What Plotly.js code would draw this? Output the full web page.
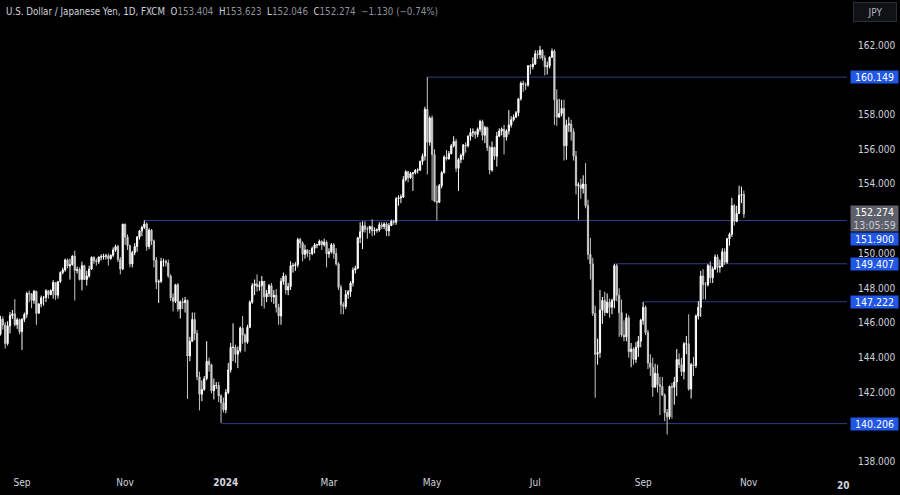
<!DOCTYPE html>
<html><head><meta charset="utf-8">
<script src="https://cdn.plot.ly/plotly-3.0.1.min.js"></script>
<style>html,body{margin:0;padding:0;background:#000;}#chart{width:900px;height:495px;}</style>
</head><body><div id="chart"></div>
<script>
// USD/JPY daily (FXCM), one line per trading week, from 2023-08-21 to 2024-10-30
const openP = [
145.35,146.22,145.88,144.82,145.84, 146.43,146.53,145.90,146.19,145.50, 146.21,146.50,147.70,147.68,147.30, 147.83,146.56,147.10,147.45,147.46,
147.85,147.63,147.86,148.33,147.60, 148.38,148.90,149.05,149.63,149.28, 149.36,149.85,149.02,149.08,148.50, 149.30,148.50,148.70,149.10,149.78,
149.58,149.53,149.80,149.80,149.85, 149.86,149.70,149.90,150.20,150.40, 149.65,149.10,151.68,150.95,150.45, 149.40,150.05,150.40,150.95,151.30,
151.50,151.70,150.40,151.35,150.72, 149.62,148.35,148.40,149.55,149.55, 149.45,148.70,147.45,147.25,148.20, 146.80,147.22,147.18,147.30,144.10,
144.95,146.20,145.40,142.90,141.90, 142.17,142.80,143.80,143.60,142.10, 142.40,142.40,141.80,141.40, 141.00,142.00,143.30,144.60,
144.60,144.20,144.40,145.70,145.30, 144.90,145.75,147.20,148.15,148.25, 148.10,148.15,148.40,147.50,147.70, 148.15,147.50,147.60,146.90,146.40,
148.40,148.70,147.90,148.10,149.30, 149.30,149.35,150.80,150.60,149.95, 150.20,150.00,150.00,150.30,150.50, 150.50,150.70,150.50,150.65,149.98,
150.10,150.50,150.00,149.40,148.05, 147.05,146.95,147.65,147.80,148.30, 149.05,149.15,150.90,151.25,151.60, 151.40,151.40,151.55,151.30,151.35,
151.35,151.65,151.55,151.70,151.30, 151.60,151.85,151.80,153.15,153.20, 153.25,154.25,154.70,154.35,154.60, 154.65,154.80,154.80,155.30,155.60,
158.30,156.40,157.80,155.70,153.00, 152.95,153.90,154.65,155.55,155.45, 155.75,156.20,156.45,154.90,155.40, 155.65,156.25,156.20,156.75,156.95,
157.00,156.85,157.15,157.60,156.80, 157.25,156.10,154.80,156.10,155.60, 156.75,157.05,157.15,156.70,157.05, 157.40,157.70,157.85,158.10,158.90,
159.80,159.70,159.70,160.80,160.75, 160.90,161.50,161.45,161.70,161.25, 160.75,160.80,161.30,161.65,158.85, 157.85,158.05,158.35,156.20,157.40,
157.45,157.00,155.60,153.90,153.95, 153.75,154.00,152.75,149.95,149.40, 146.55,144.20,144.30,146.75,147.30, 146.60,147.20,146.90,147.30,149.30,
147.60,146.60,145.30,145.20,146.30, 144.35,144.50,143.90,144.60,144.95, 146.15,146.90,145.45,143.70,143.45, 142.30,143.10,142.45,142.35,141.85,
140.85,140.60,142.35,142.30,142.60, 143.90,143.60,143.20,144.80,144.80, 142.20,143.60,143.55,146.40,146.90, 148.70,148.20,148.20,149.30,148.60,
149.10,149.80,149.20,149.25,150.10, 149.50,150.85,151.10,152.75,151.85, 152.30,153.35,153.404];
const highP = [
146.41,146.38,146.05,146.10,146.64, 146.75,147.37,146.30,146.25,146.28, 146.60,147.80,147.87,147.72,147.90, 147.85,147.12,147.58,147.55,147.95,
147.90,147.94,148.46,148.35,148.42, 148.97,149.18,149.71,149.71,149.70, 149.90,150.16,149.25,149.20,149.53, 149.35,149.00,149.30,149.83,149.84,
149.72,149.82,149.95,149.98,149.98, 150.00,149.95,150.35,150.50,150.50, 149.80,151.72,151.72,151.10,150.50, 150.15,150.60,151.00,151.35,151.60,
151.91,151.80,151.45,151.40,150.80, 149.80,148.50,149.75,149.70,149.65, 149.65,148.80,147.70,148.25,148.30, 147.30,147.45,147.50,147.35,145.20,
146.60,146.60,145.60,143.20,142.70, 142.95,144.95,144.00,143.65,142.80, 142.60,142.60,141.90,141.70, 142.20,143.70,144.85,145.98,
144.75,144.65,145.80,146.40,145.40, 145.90,147.30,148.30,148.50,148.80, 148.40,148.70,148.40,147.90,148.25, 148.30,147.90,147.95,147.10,148.60,
148.90,148.80,148.30,149.55,149.45, 149.50,150.90,150.90,150.70,150.50, 150.25,150.20,150.40,150.60,150.55, 150.80,150.75,150.85,150.75,150.30,
150.60,150.60,150.30,149.50,148.20, 147.20,147.90,147.90,148.40,149.20, 149.30,150.95,151.80,151.85,151.85, 151.55,151.60,151.97,151.50,151.45,
151.80,151.80,151.80,151.80,151.75, 151.95,151.95,153.25,153.35,153.40, 154.45,154.80,154.75,154.70,154.65, 154.85,154.90,155.35,155.75,158.45,
160.15,157.90,157.95,156.00,153.90, 154.00,154.75,155.65,155.95,155.90, 156.30,156.75,156.60,155.50,155.75, 156.30,156.40,156.80,157.20,157.20,
157.05,157.25,157.70,157.70,157.35, 157.30,156.20,156.45,156.15,157.00, 157.20,157.25,157.40,157.15,158.25, 157.90,158.00,158.20,158.95,159.90,
159.95,159.85,160.85,160.90,161.30, 161.70,161.70,161.95,161.75,161.40, 161.05,161.35,161.80,161.75,159.45, 158.90,158.85,158.85,157.70,157.85,
157.70,157.20,155.90,154.10,154.30, 154.50,155.20,153.10,150.90,149.75, 147.00,145.10,147.90,147.50,147.80, 147.70,147.40,147.40,149.40,149.40,
148.00,147.35,146.15,146.55,146.45, 144.85,144.60,144.90,145.25,146.25, 147.21,147.00,145.60,144.20,144.00, 143.65,143.60,142.90,142.90,141.95,
141.05,142.40,142.55,142.90,144.50, 144.25,144.00,144.90,145.25,146.50, 143.70,144.05,146.50,147.25,149.00, 149.10,148.35,149.40,149.55,149.25,
149.95,149.95,149.65,150.30,150.30, 150.90,151.20,153.20,152.85,152.75, 153.90,153.85,153.623];
const lowP = [
145.28,145.62,144.53,144.70,145.40, 146.23,145.80,145.66,145.35,144.45, 146.05,146.30,147.20,146.85,147.10, 145.90,146.55,146.90,147.00,147.20,
147.40,147.60,147.40,147.33,147.40, 148.30,148.80,148.95,149.15,148.50, 149.30,147.29,148.85,148.45,147.87, 148.50,148.15,148.60,149.05,149.40,
149.30,149.40,149.60,149.65,149.65, 149.30,149.65,149.80,150.10,149.50, 148.80,149.05,150.50,150.20,149.20, 149.20,149.90,150.10,150.80,151.00,
151.40,150.15,150.25,150.50,149.20, 147.95,147.15,148.30,149.25,149.25, 148.60,147.25,146.67,147.15,146.65, 146.25,146.80,146.60,141.63,143.80,
144.90,145.00,142.70,140.97,141.50, 142.10,142.70,143.20,141.95,141.60, 142.20,141.45,140.25,140.85, 140.80,141.90,143.15,143.80,
143.70,143.40,144.30,144.80,144.35, 144.80,145.70,147.10,147.60,147.80, 147.85,146.98,146.83,147.20,147.50, 147.20,147.10,146.60,145.90,145.90,
148.20,147.65,147.60,147.90,148.90, 149.00,149.20,150.30,149.55,149.70, 149.80,149.60,149.90,150.00,150.30, 150.45,150.20,150.40,149.20,149.75,
150.00,149.70,149.30,147.90,146.50, 146.50,146.80,147.40,147.50,148.10, 148.85,149.10,150.60,150.25,151.20, 150.85,151.15,151.00,151.05,151.20,
151.25,151.40,151.40,151.00,151.00, 151.60,151.65,151.65,152.75,152.90, 153.20,154.15,154.10,154.30,153.60, 154.55,154.60,154.75,155.10,155.35,
154.55,156.20,153.05,152.95,151.90, 152.90,153.75,154.60,155.35,155.40, 155.70,156.10,154.70,153.60,155.20, 155.40,155.80,156.10,156.50,156.70,
156.60,156.70,157.00,156.50,156.35, 155.90,154.55,154.70,155.40,155.00, 156.70,156.80,155.70,156.50,156.85, 157.25,157.60,157.80,157.90,158.80,
159.30,159.40,159.60,160.30,160.60, 160.85,161.20,161.20,161.10,160.25, 160.30,160.65,161.25,157.40,157.35, 157.80,157.90,155.35,155.40,157.00,
156.50,155.35,153.40,151.95,153.15, 153.45,152.60,149.65,148.50,146.40, 141.70,143.60,144.00,145.95,146.40, 146.55,146.30,146.50,146.85,147.25,
145.20,145.20,144.95,144.95,144.00, 143.45,143.60,143.70,144.05,144.60, 145.90,145.30,143.35,142.95,141.75, 142.30,142.00,140.70,141.80,140.35,
139.58,140.45,140.50,141.30,141.80, 143.40,142.95,142.75,144.20,142.10, 141.65,142.95,143.40,146.20,146.35, 147.35,147.35,148.10,148.30,148.30,
149.05,148.90,148.90,149.20,149.35, 149.40,150.45,150.95,151.60,151.80, 152.30,152.90,152.046];
const closeP = [
146.22,145.88,144.82,145.84,146.43, 146.53,145.90,146.19,145.50,146.21, 146.50,147.70,147.68,147.30,147.83, 146.56,147.10,147.45,147.46,147.85,
147.63,147.86,148.33,147.60,148.38, 148.90,149.05,149.63,149.28,149.36, 149.85,149.02,149.08,148.50,149.30, 148.50,148.70,149.10,149.78,149.58,
149.53,149.80,149.80,149.85,149.86, 149.70,149.90,150.20,150.40,149.65, 149.10,151.68,150.95,150.45,149.40, 150.05,150.40,150.95,151.30,151.50,
151.70,150.40,151.35,150.72,149.62, 148.35,148.40,149.55,149.55,149.45, 148.70,147.45,147.25,148.20,146.80, 147.22,147.18,147.30,144.10,144.95,
146.20,145.40,142.90,141.90,142.17, 142.80,143.80,143.60,142.10,142.40, 142.40,141.80,141.40,141.00, 142.00,143.30,144.60,144.60,
144.20,144.40,145.70,145.30,144.90, 145.75,147.20,148.15,148.25,148.10, 148.15,148.40,147.50,147.70,148.15, 147.50,147.60,146.90,146.40,148.40,
148.70,147.90,148.10,149.30,149.30, 149.35,150.80,150.60,149.95,150.20, 150.00,150.00,150.30,150.50,150.50, 150.70,150.50,150.65,149.98,150.10,
150.50,150.00,149.40,148.05,147.05, 146.95,147.65,147.80,148.30,149.05, 149.15,150.90,151.25,151.60,151.40, 151.40,151.55,151.30,151.35,151.35,
151.65,151.55,151.70,151.30,151.60, 151.85,151.80,153.15,153.20,153.25, 154.25,154.70,154.35,154.60,154.65, 154.80,154.80,155.30,155.60,158.30,
156.40,157.80,155.70,153.00,152.95, 153.90,154.65,155.55,155.45,155.75, 156.20,156.45,154.90,155.40,155.65, 156.25,156.20,156.75,156.95,157.00,
156.85,157.15,157.60,156.80,157.25, 156.10,154.80,156.10,155.60,156.75, 157.05,157.15,156.70,157.05,157.40, 157.70,157.85,158.10,158.90,159.80,
159.70,159.70,160.80,160.75,160.90, 161.50,161.45,161.70,161.25,160.75, 160.80,161.30,161.65,158.85,157.85, 158.05,158.35,156.20,157.40,157.45,
157.00,155.60,153.90,153.95,153.75, 154.00,152.75,149.95,149.40,146.55, 144.20,144.30,146.75,147.30,146.60, 147.20,146.90,147.30,149.30,147.60,
146.60,145.30,145.20,146.30,144.35, 144.50,143.90,144.60,144.95,146.15, 146.90,145.45,143.70,143.45,142.30, 143.10,142.45,142.35,141.85,140.85,
140.60,142.35,142.30,142.60,143.90, 143.60,143.20,144.80,144.80,142.20, 143.60,143.55,146.40,146.90,148.70, 148.20,148.20,149.30,148.60,149.10,
149.80,149.20,149.25,150.10,149.50, 150.85,151.10,152.75,151.85,152.30, 153.35,153.40,152.274];

const firstDay = '2023-08-21';
const closedDays = ['2023-12-25', '2024-01-01'];
const levels = [160.149, 151.900, 149.407, 147.222, 140.206];
const levelFrom = ['2024-04-29', '2023-11-13', '2024-08-15', '2024-09-02', '2023-12-28'];
const monthTicks = ['2023-09', '2023-11', '2024-01', '2024-03', '2024-05', '2024-07', '2024-09', '2024-11'];
const monthLabels = ['Sep', 'Nov', '<b>2024</b>', 'Mar', 'May', 'Jul', 'Sep', 'Nov'];
const cutMonth = '2025-01', cutLabel = '<b>20</b>';
const yTicks = [138, 142, 144, 146, 148, 150, 154, 156, 158, 162];
const lastPrice = 152.274, countdown = '13:05:59';
const hdrName = 'U.S. Dollar / Japanese Yen, 1D, FXCM';
const hdrO = '153.404', hdrH = '153.623', hdrL = '152.046', hdrC = '152.274', hdrChg = '\u22121.130 (\u22120.74%)';
const currency = 'JPY';

// trading calendar (weekdays) -> bar index
function ymd(d) { return d.toISOString().slice(0, 10); }
const cal = [];
for (let d = new Date(firstDay + 'T00:00:00Z'); ymd(d) <= '2025-01-20'; d.setUTCDate(d.getUTCDate() + 1)) {
  const wd = d.getUTCDay(), s = ymd(d);
  if (wd !== 0 && wd !== 6 && !(s <= '2024-10-30' && closedDays.includes(s))) cal.push(s);
}
const dates = cal.slice(0, closeP.length);
const idx = dates.map((_, i) => i);
const monthIdx = m => cal.findIndex(s => s.startsWith(m));

const FONT = 'Liberation Sans Narrow, DejaVu Sans Condensed, Roboto, sans-serif';
const W = 900, H = 495, M = {l: 0, r: 53, t: 0, b: 20};
const xRange = [-0.17, 353.0];
const yRange = [137.25, 164.59];
const pxPerUnit = (H - M.t - M.b) / (yRange[1] - yRange[0]);
const LINE = '#323c86', BLUE = '#2157e6', TXT = '#d1d4dc', MUTED = '#8f929b';
const FS = 10, HFS = 9.7;

const trace = {
  type: 'candlestick', x: idx, open: openP, high: highP, low: lowP, close: closeP,
  increasing: {line: {color: '#ffffff', width: 1}, fillcolor: '#ffffff'},
  decreasing: {line: {color: '#c8c8c8', width: 1}, fillcolor: '#c8c8c8'},
  whiskerwidth: 0, hoverinfo: 'skip'
};

const shapes = levels.map((v, i) => ({
  type: 'line', layer: 'below', xref: 'x', yref: 'y',
  x0: dates.indexOf(levelFrom[i]), x1: xRange[1], y0: v, y1: v,
  line: {color: LINE, width: 1}
}));

const annotations = [];
// current price box (two lines)
const curShift = -5, curHalf = 13;
annotations.push({
  xref: 'paper', yref: 'y', x: 1, y: lastPrice, xanchor: 'left', yanchor: 'middle', xshift: 3, yshift: curShift,
  text: lastPrice.toFixed(3) + '<br><span style="color:#c9ccd4">' + countdown + '</span>',
  showarrow: false, align: 'center', bgcolor: '#5d606b', width: 47, height: 2 * curHalf - 1, borderpad: 0,
  font: {family: FONT, size: FS + 0.5, color: '#ffffff'}
});
levels.forEach(v => {
  let ys = 0;
  const dpx = (lastPrice - v) * pxPerUnit; // px below current price
  if (dpx >= 0 && dpx < (curHalf - curShift + 7)) ys = -((curHalf - curShift + 7) - dpx);
  annotations.push({
    xref: 'paper', yref: 'y', x: 1, y: v, xanchor: 'left', yanchor: 'middle', xshift: 3, yshift: ys,
    text: v.toFixed(3), showarrow: false, bgcolor: BLUE, width: 47, height: 12, borderpad: 0,
    font: {family: FONT, size: FS + 0.5, color: '#ffffff'}
  });
});
// header
const sp = '\u00a0\u00a0';
annotations.push({
  xref: 'paper', yref: 'paper', x: 0, y: 1, xanchor: 'left', yanchor: 'top', xshift: 4, yshift: -4,
  showarrow: false, align: 'left',
  text: hdrName + sp + 'O<span style="color:' + MUTED + '">' + hdrO + '</span>' + sp +
        'H<span style="color:' + MUTED + '">' + hdrH + '</span>' + sp +
        'L<span style="color:' + MUTED + '">' + hdrL + '</span>' + sp +
        'C<span style="color:' + MUTED + '">' + hdrC + '</span>' + sp +
        '<span style="color:' + MUTED + '">' + hdrChg + '</span>',
  font: {family: FONT, size: HFS, color: TXT}
});
// currency button
annotations.push({
  xref: 'paper', yref: 'paper', x: 1, y: 1, xanchor: 'left', yanchor: 'top', xshift: 6, yshift: -2,
  text: currency, showarrow: false, bgcolor: '#111216', bordercolor: '#2a2e39', borderwidth: 1,
  width: 40, height: 16, font: {family: FONT, size: FS, color: '#b2b5be'}
});
// partly hidden future year label at the right edge of the time scale
annotations.push({
  xref: 'paper', yref: 'paper', x: (monthIdx(cutMonth) - xRange[0]) / (xRange[1] - xRange[0]), y: 0,
  xanchor: 'right', yanchor: 'top', yshift: -3,
  text: cutLabel, showarrow: false, font: {family: FONT, size: FS, color: TXT}
});

const layout = {
  width: W, height: H, margin: M, paper_bgcolor: '#000000', plot_bgcolor: '#000000', showlegend: false,
  xaxis: {
    range: xRange, tickmode: 'array', tickvals: monthTicks.map(monthIdx), ticktext: monthLabels,
    showgrid: false, zeroline: false, showline: false, ticks: '', rangeslider: {visible: false},
    tickfont: {family: FONT, size: FS, color: TXT}, fixedrange: true
  },
  yaxis: {
    side: 'right', range: yRange, tickmode: 'array', tickvals: yTicks, tickformat: '.3f',
    showgrid: false, zeroline: false, showline: false, ticks: '', ticklabelstandoff: 10,
    tickfont: {family: FONT, size: FS, color: TXT}, fixedrange: true
  },
  shapes: shapes, annotations: annotations
};
Plotly.newPlot('chart', [trace], layout, {displayModeBar: false, staticPlot: true});
</script>
</body></html>
